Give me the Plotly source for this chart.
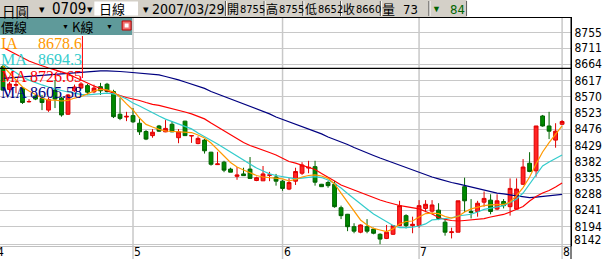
import plotly.graph_objects as go

# ---------------- data ----------------
idx = list(range(87))
opens = [8657, 8591, 8603, 8594, 8555, 8572, 8565, 8531, 8589, 8566,
         8519, 8587, 8595, 8602, 8584, 8599, 8606, 8585, 8519, 8511,
         8515, 8493, 8469, 8457, 8485, 8468, 8490, 8451, 8499, 8456,
         8434, 8444, 8409, 8373, 8380, 8360, 8339, 8346, 8360, 8327,
         8326, 8342, 8337, 8325, 8302, 8325, 8348, 8363, 8367, 8316,
         8321, 8316, 8248, 8229, 8193, 8177, 8193, 8186, 8171, 8159,
         8171, 8196, 8225, 8196, 8196, 8246, 8238, 8241, 8206, 8176,
         8177, 8309, 8237, 8237, 8264, 8270, 8244, 8266, 8251, 8244,
         8316, 8377, 8355, 8514, 8485, 8444, 8490]
highs = [8662, 8613, 8616, 8598, 8563, 8576, 8575, 8568, 8618, 8569,
         8578, 8605, 8612, 8607, 8605, 8610, 8610, 8590, 8566, 8526,
         8537, 8505, 8473, 8476, 8488, 8502, 8499, 8476, 8500, 8458,
         8455, 8447, 8410, 8410, 8384, 8364, 8366, 8364, 8395, 8338,
         8369, 8352, 8346, 8328, 8334, 8364, 8380, 8384, 8384, 8317,
         8326, 8326, 8254, 8230, 8203, 8200, 8215, 8190, 8174, 8198,
         8198, 8268, 8229, 8222, 8270, 8270, 8270, 8261, 8217, 8190,
         8268, 8335, 8273, 8268, 8295, 8287, 8287, 8273, 8333, 8333,
         8389, 8409, 8485, 8517, 8526, 8493, 8502]
lows = [8587, 8581, 8580, 8549, 8553, 8560, 8531, 8526, 8537, 8512,
        8517, 8584, 8593, 8575, 8580, 8575, 8582, 8508, 8502, 8499,
        8494, 8459, 8444, 8451, 8468, 8467, 8467, 8435, 8456, 8436,
        8432, 8405, 8370, 8372, 8351, 8351, 8329, 8341, 8333, 8325,
        8326, 8325, 8312, 8297, 8299, 8314, 8343, 8348, 8312, 8308,
        8306, 8248, 8215, 8180, 8174, 8174, 8174, 8171, 8142, 8157,
        8169, 8196, 8188, 8174, 8190, 8235, 8233, 8212, 8167, 8159,
        8177, 8235, 8217, 8222, 8251, 8229, 8241, 8246, 8225, 8244,
        8314, 8351, 8338, 8483, 8447, 8422, 8488]
closes = [8589, 8607, 8605, 8553, 8556, 8563, 8553, 8562, 8563, 8517,
          8575, 8598, 8607, 8583, 8595, 8587, 8585, 8512, 8507, 8513,
          8497, 8468, 8447, 8467, 8470, 8478, 8468, 8468, 8457, 8457,
          8449, 8413, 8374, 8375, 8357, 8351, 8343, 8341, 8333, 8335,
          8346, 8343, 8325, 8304, 8321, 8353, 8372, 8365, 8322, 8309,
          8312, 8251, 8225, 8193, 8180, 8198, 8180, 8174, 8157, 8177,
          8196, 8254, 8196, 8200, 8254, 8258, 8256, 8217, 8177, 8178,
          8268, 8268, 8234, 8261, 8275, 8237, 8268, 8254, 8304, 8302,
          8366, 8353, 8485, 8485, 8470, 8470, 8498]

ma_orange = [8659, 8639, 8618, 8598, 8586.5, 8575, 8566, 8560, 8560, 8557.5,
             8559, 8566, 8570.5, 8578, 8586.5, 8591, 8589.5, 8583.5, 8569, 8549,
             8531.5, 8508, 8489.5, 8482, 8475, 8470.5, 8469, 8468.5, 8467.5, 8466,
             8459, 8450, 8435.5, 8415.5, 8398, 8379, 8366, 8357.5, 8348.5, 8341.5,
             8337, 8335, 8333.5, 8331.5, 8325.5, 8330, 8337, 8341.5, 8343, 8340,
             8333, 8317, 8290.5, 8264.5, 8235.5, 8212.5, 8198, 8188, 8183.5, 8179,
             8186.5, 8201, 8208, 8209.5, 8221, 8231, 8232.5, 8231, 8222.5, 8218,
             8222.5, 8235.5, 8244.5, 8250, 8254, 8256, 8256, 8257.5, 8264.5, 8283.5,
             8306.5, 8337, 8375, 8409.5, 8437, 8462, 8485]
ma_cyan = [8665, 8653, 8639, 8627, 8618, 8610, 8604, 8598, 8592, 8588,
           8583.5, 8579, 8576.5, 8575, 8576.5, 8579, 8580.5, 8578, 8572, 8563,
           8551.5, 8543, 8533, 8522.5, 8514, 8505, 8498, 8491, 8483.5, 8476.5,
           8464.5, 8454.5, 8444.5, 8433, 8421, 8409.5, 8398, 8386.5, 8373.5, 8363,
           8354.5, 8346, 8341.5, 8338.5, 8335.5, 8331.5, 8334, 8337, 8338, 8335.5,
           8328.5, 8318, 8305, 8289, 8275, 8260, 8244.5, 8230, 8218, 8206.5,
           8196.5, 8190.5, 8190, 8192, 8195, 8201, 8212.5, 8214, 8215.5, 8219,
           8224, 8227, 8229, 8235.5, 8243, 8247, 8250, 8254, 8263, 8273.5,
           8290.5, 8317, 8346, 8369, 8380.5, 8390.5, 8401]
ma_red = [8712.5, 8702.5, 8694, 8682, 8673.5, 8666, 8659, 8653, 8647.5, 8641.5,
          8636, 8627, 8618, 8609.5, 8601, 8594, 8586.5, 8579, 8573.5, 8567.5,
          8563.5, 8559, 8553, 8547.5, 8544.5, 8540, 8536, 8531.5, 8525.5, 8520,
          8512.5, 8505.5, 8493.5, 8482, 8470.5, 8457.5, 8446, 8437, 8428.5, 8421,
          8415.5, 8408, 8401, 8391, 8382, 8377.5, 8372, 8366, 8359, 8347,
          8337, 8325.5, 8314, 8306.5, 8299.5, 8292, 8285, 8277.5, 8270.5, 8264.5,
          8259, 8254.5, 8251, 8248.5, 8244.5, 8237, 8230, 8219.5, 8214, 8211,
          8209.5, 8211, 8212.5, 8214, 8216.5, 8221, 8225.5, 8228.5, 8235.5, 8243,
          8251.5, 8267.5, 8280.5, 8290.5, 8298, 8308, 8319.5]
ma_navy = [8623, 8624, 8625.5, 8627, 8628.5, 8630, 8631.5, 8633, 8636, 8637,
           8638.5, 8640, 8641.5, 8643, 8644.5, 8644.5, 8644.5, 8644.5, 8643, 8641.5,
           8640, 8638.5, 8636, 8634.5, 8633, 8628.5, 8624, 8618.5, 8612.5, 8607,
           8601, 8594, 8585, 8578, 8570.5, 8563.5, 8556, 8550, 8543, 8536,
           8528.5, 8520, 8511, 8504, 8498, 8491, 8483.5, 8476.5, 8469, 8462,
           8453, 8446, 8438.5, 8431.5, 8422.5, 8415.5, 8406.5, 8399.5, 8392, 8385,
           8379, 8372, 8364.5, 8357.5, 8351.5, 8344.5, 8337, 8331.5, 8325.5, 8321,
           8317, 8312.5, 8308, 8304, 8299.5, 8295, 8290.5, 8288, 8285, 8282,
           8279, 8277.5, 8279, 8280.5, 8282, 8285, 8286.5]

month_idx = [-1, 20, 43, 64, 86]
month_labels = ["4", "5", "6", "7", "8"]
price_ticks = [8755, 8711, 8664, 8617, 8570, 8523, 8476, 8429, 8382, 8335,
               8288, 8241, 8194, 8142]
ref_line = 8652

legend_names = ["IA", "MA", "MA", "MA"]
legend_values = ["8678.6", "8694.3", "8726.65", "8605.58"]
legend_colors = ["#ff9900", "#33cccc", "#ff0000", "#000080"]

# ---------------- geometry ----------------
W, H = 602, 259
ML, MR, MT, MB = 0, 27, 17, 13
PW = W - ML - MR
PH = H - MT - MB


def px(x):
    return (x - ML) / PW


def py(y):
    return (H - MB - y) / PH


NARROW = "Liberation Sans Narrow, Arial Narrow, DejaVu Sans Condensed, sans-serif"
CJK = "Noto Sans CJK TC, Noto Sans CJK SC, sans-serif"
SERIF = "Liberation Serif, Times New Roman, serif"
SANS = "Liberation Sans, Arial, sans-serif"

fig = go.Figure()
fig.add_trace(go.Candlestick(
    x=idx, open=opens, high=highs, low=lows, close=closes,
    increasing=dict(line=dict(color="#e00000", width=1), fillcolor="#ff2424"),
    decreasing=dict(line=dict(color="#006400", width=1), fillcolor="#008a00"),
    whiskerwidth=0, hoverinfo="skip", showlegend=False))

for series, col in zip([ma_navy, ma_red, ma_cyan, ma_orange],
                       ["#000080", "#ff0000", "#33cccc", "#ff9900"]):
    fig.add_trace(go.Scatter(x=idx, y=series, mode="lines",
                             line=dict(color=col, width=1.2),
                             hoverinfo="skip", showlegend=False))

shapes = []
# month grid lines (extend into the label strip)
for m in month_idx:
    shapes.append(dict(type="line", xref="x", yref="paper", x0=m, x1=m,
                       y0=py(259), y1=1, line=dict(color="#c8c8c8", width=1.5),
                       layer="below"))
# black reference line
shapes.append(dict(type="line", xref="paper", yref="y", x0=0, x1=1,
                   y0=ref_line, y1=ref_line, line=dict(color="#000000", width=1.3)))
# right axis line extension and top border
shapes.append(dict(type="line", xref="paper", yref="paper", x0=1, x1=1,
                   y0=py(259), y1=py(17), line=dict(color="#000000", width=1)))
shapes.append(dict(type="line", xref="paper", yref="paper", x0=0, x1=1,
                   y0=py(17.5), y1=py(17.5), line=dict(color="#000000", width=1)))
# toolbar
shapes.append(dict(type="rect", xref="paper", yref="paper", x0=px(0), x1=px(470),
                   y0=py(17), y1=py(0), fillcolor="#d4d0c8", line=dict(width=0)))
shapes.append(dict(type="rect", xref="paper", yref="paper", x0=px(95), x1=px(139),
                   y0=py(15.5), y1=py(1.5), fillcolor="#ffffff", line=dict(width=0)))
for sx in [227, 266, 305, 343, 383, 432, 470]:
    shapes.append(dict(type="line", xref="paper", yref="paper", x0=px(sx), x1=px(sx),
                       y0=py(16), y1=py(1), line=dict(color="#404040", width=1)))
    shapes.append(dict(type="line", xref="paper", yref="paper", x0=px(sx + 1), x1=px(sx + 1),
                       y0=py(16), y1=py(1), line=dict(color="#ffffff", width=1)))
# teal header
shapes.append(dict(type="rect", xref="paper", yref="paper", x0=px(0), x1=px(133),
                   y0=py(35), y1=py(18), fillcolor="#5f9a9a", line=dict(width=0),
                   layer="above"))
shapes.append(dict(type="rect", xref="paper", yref="paper", x0=px(123), x1=px(132),
                   y0=py(30), y1=py(21), fillcolor="#f07070",
                   line=dict(color="#c00000", width=1), layer="above"))
shapes.append(dict(type="rect", xref="paper", yref="paper", x0=px(125.5), x1=px(129.5),
                   y0=py(27.5), y1=py(23.5), fillcolor="#ffffff",
                   line=dict(width=0), layer="above"))
# red cursor line in legend
shapes.append(dict(type="line", xref="paper", yref="paper", x0=px(83), x1=px(83),
                   y0=py(78), y1=py(36), line=dict(color="#ff0000", width=1)))

ann = []


def txt(x, y, s, size, color="#000000", family=SANS, anchor="left", yanchor="middle"):
    ann.append(dict(x=px(x), y=py(y), xref="paper", yref="paper", text=s,
                    showarrow=False, xanchor=anchor, yanchor=yanchor,
                    font=dict(size=size, color=color, family=family),
                    borderpad=0))


# toolbar texts
txt(1, 0, "日圓", 13.5, family=CJK, yanchor="top")
txt(38, 9, "▾", 11)
txt(51, 9, "0709", 15, family=NARROW)
txt(87, 9, "▾", 11)
txt(99, 9, "日線", 13, family=CJK)
txt(143, 9, "▾", 11)
txt(152, 9, "2007/03/29", 14, family=NARROW)
txt(228, 9, "開", 12, family=CJK)
txt(241, 9.5, "8755", 11, family=NARROW)
txt(267, 9, "高", 12, family=CJK)
txt(280, 9.5, "8755", 11, family=NARROW)
txt(306, 9, "低", 12, family=CJK)
txt(319, 9.5, "8652", 11, family=NARROW)
txt(344, 9, "收", 12, family=CJK)
txt(357, 9.5, "8660", 11, family=NARROW)
txt(384, 9, "量", 13, family=CJK)
txt(422, 9.5, "73", 13, family=NARROW, anchor="right")
txt(434, 9, "▼", 9, color="#006400")
txt(452, 9.5, "84", 13, color="#006400", family=NARROW)
# header texts
txt(0, 26.5, "價線", 13, family=CJK)
txt(61, 26.5, "▼", 7)
txt(71, 26.5, "K線", 13, family=CJK)
txt(106, 26.5, "▼", 7)
# legend
for i, (nm, val, col) in enumerate(zip(legend_names, legend_values, legend_colors)):
    yy = 43.5 + i * 16.3
    txt(0, yy, nm, 16, color=col, family=SERIF)
    txt(84, yy, val, 16, color=col, family=SERIF, anchor="right")

# bottom price label (sits above its grid line, as in the reference)
txt(577, 239.5, str(price_ticks[-1]), 12, family=NARROW)

# month labels
for m, lab in zip(month_idx, month_labels):
    xx = m if m >= 0 else -0.4
    ann.append(dict(x=xx, y=py(259.5), xref="x", yref="paper", text=lab,
                    showarrow=False, xanchor="left", yanchor="bottom",
                    xshift=(0 if m >= 0 else -4), borderpad=0,
                    font=dict(size=12, color="#000000", family=NARROW)))

ticktext = [str(v) for v in price_ticks[:-1]] + [""]

fig.update_layout(
    width=W, height=H,
    margin=dict(l=ML, r=MR, t=MT, b=MB, pad=0),
    paper_bgcolor="#ffffff", plot_bgcolor="#ffffff",
    boxgap=0.16,
    showlegend=False,
    shapes=shapes, annotations=ann,
    xaxis=dict(range=[-0.46, 87.37], showgrid=False, zeroline=False,
               showticklabels=False, ticks="", rangeslider=dict(visible=False),
               showline=True, linecolor="#c0c0c0", linewidth=1, fixedrange=True),
    yaxis=dict(range=[8137, 8801], side="right", tickvals=price_ticks,
               ticktext=ticktext, showgrid=True, gridcolor="#c8c8c8", gridwidth=1,
               zeroline=False, ticks="", showline=True, linecolor="#000000",
               linewidth=1, tickfont=dict(size=12, color="#000000", family=NARROW),
               fixedrange=True),
)

fig.write_html("out.html")
